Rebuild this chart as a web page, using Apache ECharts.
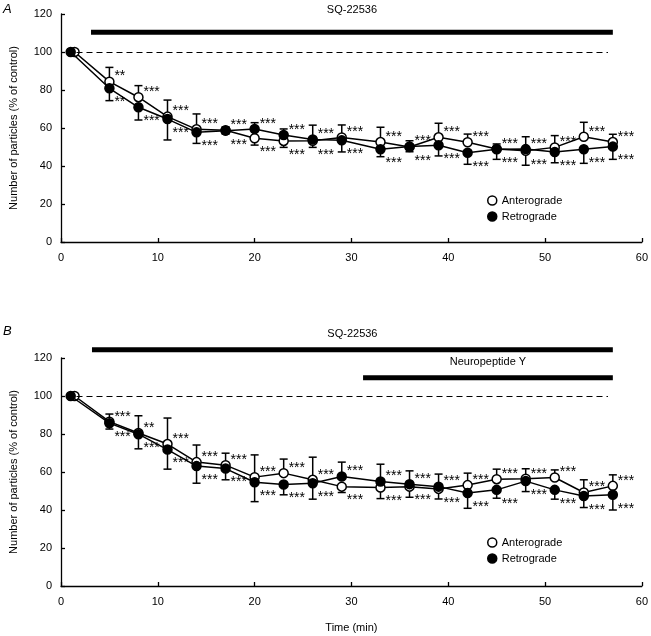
<!DOCTYPE html>
<html>
<head>
<meta charset="utf-8">
<script src="https://cdn.jsdelivr.net/npm/echarts@6/dist/echarts.min.js"></script>
<style>
  html, body { margin: 0; padding: 0; background: #fff; }
  #chart { width: 651px; height: 636px; }
</style>
</head>
<body>
<div id="chart"></div>
<script>
// sampling times (min); the first open circle is drawn slightly to the right
const timesRet = [1, 5, 8, 11, 14, 17, 20, 23, 26, 29, 33, 36, 39, 42, 45, 48, 51, 54, 57]
const timesAnt = [1.4, 5, 8, 11, 14, 17, 20, 23, 26, 29, 33, 36, 39, 42, 45, 48, 51, 54, 57]

// panel A
const antA = [100, 84.4, 76.2, 66.0, 59.3, 58.8, 54.6, 53.2, 53.3, 55.0, 52.6, 50.0, 55.1, 52.5, 49.0, 48.0, 49.8, 55.4, 52.6]
const antSemA = [0, 7.5, 6.1, 8.7, 8.1, 1.8, 3.6, 3.4, 3.5, 6.6, 7.8, 2.5, 7.4, 4.3, 2.6, 7.6, 6.2, 7.6, 4.1]
const retA = [100, 80.9, 70.9, 64.7, 57.7, 58.6, 59.5, 56.3, 54.0, 53.5, 48.8, 50.2, 50.9, 47.0, 48.8, 48.9, 47.4, 48.8, 50.2]
const retSemA = [0, 6.5, 6.7, 11.0, 5.8, 1.8, 3.3, 3.2, 7.5, 6.1, 3.9, 3.1, 5.6, 6.1, 5.3, 6.5, 5.7, 7.4, 6.7]
const starsAntA = ['', '**', '***', '***', '***', '***', '***', '***', '***', '***', '***', '***', '***', '***', '***', '***', '***', '***', '***']
const starsRetA = ['', '**', '***', '***', '***', '***', '***', '***', '***', '***', '***', '***', '***', '***', '***', '***', '***', '***', '***']

// panel B
const antB = [100, 86.5, 80.5, 74.7, 65.2, 63.6, 57.3, 59.4, 55.9, 52.3, 51.8, 52.3, 51.1, 53.1, 56.2, 56.5, 57.1, 49.2, 52.7]
const antSemB = [0, 4.0, 9.1, 13.7, 9.0, 6.3, 11.7, 7.4, 11.9, 3.1, 5.8, 5.6, 5.3, 6.3, 5.3, 5.2, 4.0, 6.7, 5.8]
const retB = [100, 85.7, 79.9, 71.8, 63.1, 61.8, 54.6, 53.4, 54.1, 57.6, 55.0, 53.6, 52.3, 48.9, 50.6, 55.2, 50.6, 47.4, 48.0]
const retSemB = [0, 3.1, 7.7, 10.3, 9.0, 5.9, 10.2, 5.4, 8.4, 7.6, 9.1, 7.0, 6.6, 8.0, 4.4, 5.5, 4.9, 6.1, 8.0]
const starsAntB = ['', '***', '**', '***', '***', '***', '***', '***', '***', '***', '***', '***', '***', '***', '***', '***', '***', '***', '***']
const starsRetB = ['', '***', '***', '***', '***', '***', '***', '***', '***', '***', '***', '***', '***', '***', '***', '***', '***', '***', '***']

// axes
const xTicks = [0, 10, 20, 30, 40, 50, 60]
const yTicks = [0, 20, 40, 60, 80, 100, 120]
const controlLevel = 100
const controlSpan = [1.6, 56.5]

// drug application bars
const treatA = [['SQ-22536', 3.1, 57, 110.4]]
const treatB = [['SQ-22536', 3.2, 57, 124.4], ['Neuropeptide Y', 31.2, 57, 109.6]]

const FONT = 'Liberation Sans, Arial, sans-serif'
const chart = echarts.init(document.getElementById('chart'))

function xAxis(gi, withName) {
  return {
    gridIndex: gi, type: 'value',
    min: xTicks[0], max: xTicks[xTicks.length - 1], interval: xTicks[1] - xTicks[0],
    name: withName ? 'Time (min)' : '', nameLocation: 'middle', nameGap: 36,
    nameTextStyle: { color: '#000', fontSize: 11, fontFamily: FONT },
    axisLine: { lineStyle: { color: '#000', width: 1.3 } },
    axisTick: { inside: true, length: 4, lineStyle: { color: '#000', width: 1.3 } },
    axisLabel: { color: '#000', fontSize: 11, fontFamily: FONT, margin: 10 },
    splitLine: { show: false },
  }
}

function yAxis(gi) {
  return {
    gridIndex: gi, type: 'value',
    min: yTicks[0], max: yTicks[yTicks.length - 1], interval: yTicks[1] - yTicks[0],
    name: 'Number of particles (% of control)', nameLocation: 'middle', nameGap: 42,
    nameTextStyle: { color: '#000', fontSize: 11, fontFamily: FONT },
    axisLine: { show: true, lineStyle: { color: '#000', width: 1.3 } },
    axisTick: { show: true, inside: true, length: 4, lineStyle: { color: '#000', width: 1.3 } },
    axisLabel: { color: '#000', fontSize: 11, fontFamily: FONT, margin: 9 },
    splitLine: { show: false },
  }
}

function lineSeries(gi, name, t, vals, open, withControl) {
  const s = {
    name: name, type: 'line', xAxisIndex: gi, yAxisIndex: gi,
    data: t.map((x, i) => [x, vals[i]]),
    symbol: 'circle', symbolSize: 9, z: open ? 3 : 4,
    lineStyle: { color: '#000', width: 1.5 },
    itemStyle: { color: open ? '#fff' : '#000', borderColor: '#000', borderWidth: 1.5 },
  }
  if (withControl) {
    s.markLine = {
      silent: true, symbol: 'none', label: { show: false },
      lineStyle: { color: '#000', width: 1.2, type: [6, 4] },
      data: [[{ coord: [controlSpan[0], controlLevel] }, { coord: [controlSpan[1], controlLevel] }]],
    }
  }
  return s
}

// one-sided error bars (outer side) with significance stars
function errSeries(gi, t, vals, sems, other, stars) {
  return {
    type: 'custom', xAxisIndex: gi, yAxisIndex: gi, z: 2, silent: true,
    data: t.map((x, i) => [x, vals[i], sems[i], vals[i] >= other[i] ? 1 : -1]),
    encode: { x: 0, y: 1 },
    renderItem: function (params, api) {
      const x = api.value(0)
      const v = api.value(1)
      const s = api.value(2)
      const d = api.value(3)
      const p = api.coord([x, v])
      const e = api.coord([x, v + d * s])
      const children = []
      if (s > 0) {
        children.push({ type: 'line', shape: { x1: p[0], y1: p[1], x2: e[0], y2: e[1] }, style: { stroke: '#000', lineWidth: 1.5 } })
        children.push({ type: 'line', shape: { x1: e[0] - 4, y1: e[1], x2: e[0] + 4, y2: e[1] }, style: { stroke: '#000', lineWidth: 1.5 } })
      }
      const star = stars[params.dataIndex]
      if (star) {
        children.push({
          type: 'text',
          style: {
            text: star, x: p[0] + 5, y: p[1] + (d > 0 ? -5 : 14),
            align: 'left', verticalAlign: 'middle',
            fill: '#000', fontSize: 14, fontFamily: FONT,
          },
        })
      }
      return { type: 'group', children: children }
    },
  }
}

// thick bars showing drug application, with label above
function treatSeries(gi, rows, gap) {
  return {
    type: 'custom', xAxisIndex: gi, yAxisIndex: gi, z: 5, silent: true, clip: false,
    data: rows.map((r) => [r[1], r[2], r[3]]),
    encode: { x: [0, 1], y: 2 },
    renderItem: function (params, api) {
      const a = api.coord([api.value(0), api.value(2)])
      const b = api.coord([api.value(1), api.value(2)])
      return {
        type: 'group',
        children: [
          { type: 'rect', shape: { x: a[0], y: a[1] - 2.5, width: b[0] - a[0], height: 5 }, style: { fill: '#000' } },
          {
            type: 'text',
            style: {
              text: rows[params.dataIndex][0], x: (a[0] + b[0]) / 2, y: a[1] - gap,
              align: 'center', verticalAlign: 'middle', fill: '#000', fontSize: 11, fontFamily: FONT,
            },
          },
        ],
      }
    },
  }
}

const legendItems = [
  { name: 'Anterograde', itemStyle: { color: '#fff', borderColor: '#000', borderWidth: 1.5 } },
  { name: 'Retrograde', itemStyle: { color: '#000', borderColor: '#000', borderWidth: 1.5 } },
]

const option = {
  animation: false,
  backgroundColor: '#fff',
  grid: [
    { left: 61, top: 14, width: 581, height: 228 },
    { left: 61, top: 358, width: 581, height: 228 },
  ],
  xAxis: [xAxis(0, false), xAxis(1, true)],
  yAxis: [yAxis(0), yAxis(1)],
  legend: [
    {
      left: 482, top: 190, orient: 'vertical', itemGap: 5, itemWidth: 9, itemHeight: 9, icon: 'circle',
      textStyle: { color: '#000', fontSize: 11, fontFamily: FONT }, data: legendItems, selectedMode: false,
    },
    {
      left: 482, top: 532, orient: 'vertical', itemGap: 5, itemWidth: 9, itemHeight: 9, icon: 'circle',
      textStyle: { color: '#000', fontSize: 11, fontFamily: FONT }, data: legendItems, selectedMode: false,
    },
  ],
  graphic: [
    { type: 'text', left: 3, top: 3, style: { text: 'A', fontSize: 13, fontStyle: 'italic', fontFamily: FONT, fill: '#000' } },
    { type: 'text', left: 3, top: 325, style: { text: 'B', fontSize: 13, fontStyle: 'italic', fontFamily: FONT, fill: '#000' } },
  ],
  series: [
    errSeries(0, timesAnt, antA, antSemA, retA, starsAntA),
    errSeries(0, timesRet, retA, retSemA, antA, starsRetA),
    lineSeries(0, 'Anterograde', timesAnt, antA, true, true),
    lineSeries(0, 'Retrograde', timesRet, retA, false, false),
    treatSeries(0, treatA, 22),
    errSeries(1, timesAnt, antB, antSemB, retB, starsAntB),
    errSeries(1, timesRet, retB, retSemB, antB, starsRetB),
    lineSeries(1, 'Anterograde', timesAnt, antB, true, true),
    lineSeries(1, 'Retrograde', timesRet, retB, false, false),
    treatSeries(1, treatB, 16),
  ],
}

chart.setOption(option)
window.addEventListener('resize', function () {
  chart.resize()
})
</script>
</body>
</html>
